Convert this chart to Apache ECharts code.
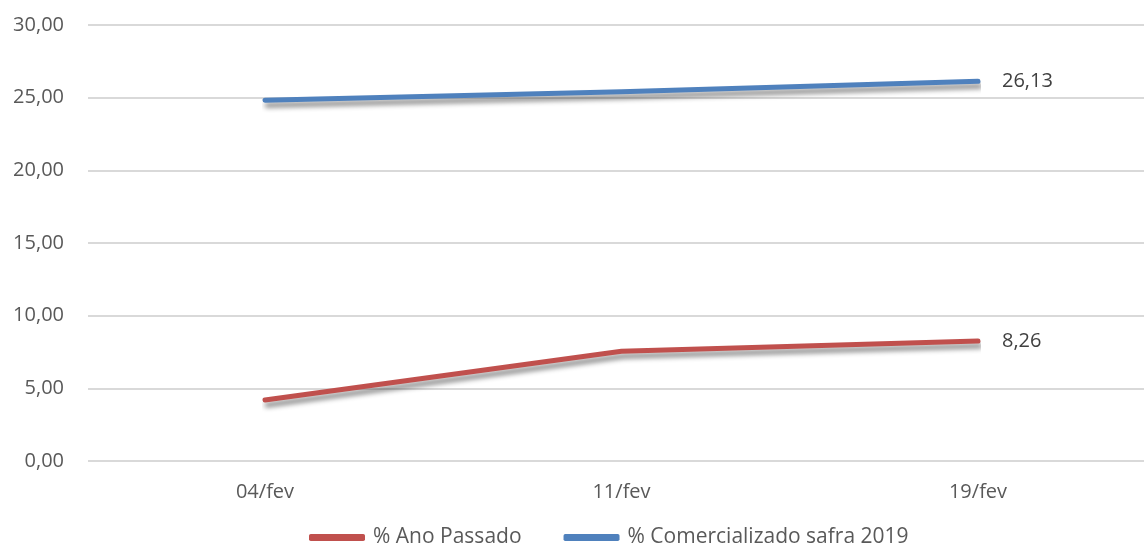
<!DOCTYPE html>
<html>
<head>
<meta charset="utf-8">
<script src="https://cdn.jsdelivr.net/npm/echarts@6/dist/echarts.min.js"></script>
<style>
  html, body { margin: 0; padding: 0; background: #fff; }
  #chart { width: 1144px; height: 545px; }
</style>
</head>
<body>
<div id="chart"></div>
<script>
const categories = ['04/fev', '11/fev', '19/fev'];
const anoPassado = [4.20, 7.55, 8.26];
const comercializado = [24.82, 25.40, 26.13];
const seriesNames = ['% Ano Passado', '% Comercializado safra 2019'];

const fmt = v => Number(v).toFixed(2).replace('.', ',');
const FONT = 'Open Sans';
const TEXT = '#595959';
const Y_MIN = 0, Y_MAX = 30, Y_STEP = 5;

function lineSeries(name, data, color) {
  return {
    name: name,
    type: 'line',
    xAxisIndex: 1,
    yAxisIndex: 1,
    data: data,
    symbol: 'none',
    endLabel: {
      show: true, distance: 24,
      formatter: p => fmt(p.value),
      color: '#404040', fontFamily: FONT, fontSize: 20
    },
    lineStyle: {
      color: color, width: 5, cap: 'round', join: 'round',
      shadowColor: 'rgba(0,0,0,0.45)', shadowBlur: 5,
      shadowOffsetX: 2, shadowOffsetY: 5
    },
    itemStyle: { color: color },
    emphasis: { disabled: true },
    animation: false
  };
}

const chart = echarts.init(document.getElementById('chart'));
chart.setOption({
  backgroundColor: '#fff',
  // grid 0: full-width value frame with gridlines; grid 1: the category span of the lines
  grid: [
    { left: 88, right: 0, top: 25, bottom: 84 },
    { left: 265, right: 166, top: 25, bottom: 84 }
  ],
  legend: {
    bottom: -8, left: 304,
    itemWidth: 56, itemHeight: 7, itemGap: 42,
    icon: 'roundRect',
    textStyle: { color: TEXT, fontFamily: FONT, fontSize: 21, padding: [0, 0, 0, 3] },
    data: seriesNames
  },
  xAxis: [
    { type: 'category', gridIndex: 0, data: categories, show: false },
    {
      type: 'category', gridIndex: 1, data: categories, boundaryGap: false,
      axisLine: { show: false }, axisTick: { show: false }, splitLine: { show: false },
      axisLabel: { color: TEXT, fontFamily: FONT, fontSize: 20, margin: 21 }
    }
  ],
  yAxis: [
    {
      type: 'value', gridIndex: 0, min: Y_MIN, max: Y_MAX, interval: Y_STEP,
      axisLine: { show: false }, axisTick: { show: false },
      splitLine: { lineStyle: { color: '#d9d9d9', width: 2 } },
      axisLabel: { color: TEXT, fontFamily: FONT, fontSize: 20, margin: 24, formatter: fmt }
    },
    {
      type: 'value', gridIndex: 1, min: Y_MIN, max: Y_MAX, interval: Y_STEP,
      show: false, splitLine: { show: false }
    }
  ],
  series: [
    lineSeries(seriesNames[0], anoPassado, '#C0504D'),
    lineSeries(seriesNames[1], comercializado, '#4F81BD')
  ]
});
</script>
</body>
</html>
